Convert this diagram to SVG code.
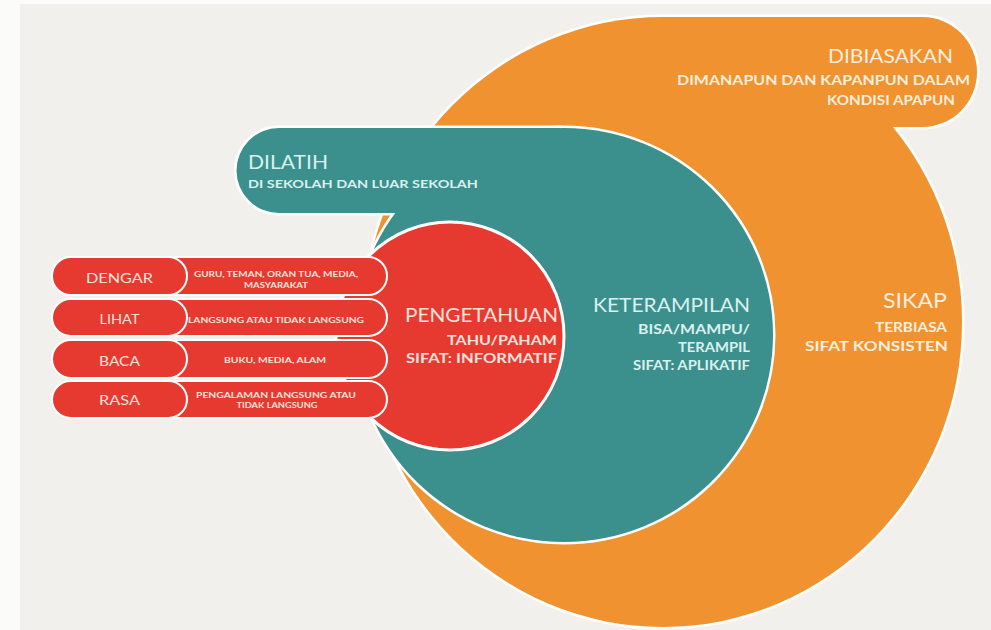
<svg xmlns="http://www.w3.org/2000/svg" width="991" height="630" viewBox="0 0 991 630">
<style>
.orange{fill:#f0922f}
.teal{fill:#3b8f8d}
.red{fill:#e63a31}
.edge{stroke:#ffffff;stroke-width:5}
.t{font-family:Lato,"Open Sans","DejaVu Sans",sans-serif}
.big{font-size:19px;font-weight:400}
.sub{font-size:12.5px;font-weight:700}
.tiny{font-size:7.5px;font-weight:700}
.ot{fill:#fdeedd}
.tt{fill:#d9f1ee}
.rt{fill:#fde2dc}
</style>
<rect x="0" y="0" width="991" height="630" fill="#fbfbfa"/>
<rect x="20" y="4" width="971" height="626" fill="#f2f0ec"/>

<g id="sikap">
  <ellipse class="edge" cx="663" cy="322" rx="299" ry="305" fill="none"/>
  <path class="edge" d="M660,17 H922 A55,55 0 0 1 922,127 H660 Z" fill="none"/>
  <ellipse class="orange" cx="663" cy="322" rx="299" ry="305"/>
  <path class="orange" d="M660,17 H922 A55,55 0 0 1 922,127 H660 Z"/>
  <text class="t big ot" x="953" y="63" text-anchor="end" textLength="125" lengthAdjust="spacingAndGlyphs">DIBIASAKAN</text>
  <text class="t sub ot" x="970" y="85" text-anchor="end" textLength="293" lengthAdjust="spacingAndGlyphs">DIMANAPUN DAN KAPANPUN DALAM</text>
  <text class="t sub ot" x="955" y="105" text-anchor="end" textLength="128" lengthAdjust="spacingAndGlyphs">KONDISI APAPUN</text>
  <text class="t ot" font-size="21" x="947" y="308" text-anchor="end" textLength="64" lengthAdjust="spacingAndGlyphs">SIKAP</text>
  <text class="t sub ot" x="947" y="332" text-anchor="end" textLength="72" lengthAdjust="spacingAndGlyphs">TERBIASA</text>
  <text class="t sub ot" x="948" y="351" text-anchor="end" textLength="143" lengthAdjust="spacingAndGlyphs">SIFAT KONSISTEN</text>
</g>

<g id="keterampilan">
  <ellipse class="edge" cx="564" cy="335" rx="209" ry="207" fill="none"/>
  <path class="edge" d="M279,128 H560 V213 H279 A42.5,42.5 0 0 1 279,128 Z" fill="none"/>
  <ellipse class="teal" cx="564" cy="335" rx="209" ry="207"/>
  <path class="teal" d="M279,128 H560 V213 H279 A42.5,42.5 0 0 1 279,128 Z"/>
  <text class="t big tt" x="248" y="169" textLength="80" lengthAdjust="spacingAndGlyphs">DILATIH</text>
  <text class="t tt" font-size="11" font-weight="700" x="248" y="188" textLength="230" lengthAdjust="spacingAndGlyphs">DI SEKOLAH DAN LUAR SEKOLAH</text>
  <text class="t big tt" x="750" y="312" text-anchor="end" textLength="157" lengthAdjust="spacingAndGlyphs">KETERAMPILAN</text>
  <text class="t sub tt" x="750" y="334" text-anchor="end" textLength="112" lengthAdjust="spacingAndGlyphs">BISA/MAMPU/</text>
  <text class="t sub tt" x="750" y="352" text-anchor="end" textLength="72" lengthAdjust="spacingAndGlyphs">TERAMPIL</text>
  <text class="t sub tt" x="750" y="370" text-anchor="end" textLength="117" lengthAdjust="spacingAndGlyphs">SIFAT: APLIKATIF</text>
</g>

<g id="pengetahuan">
  <circle class="red" cx="450" cy="336" r="114" stroke="#ffffff" stroke-width="3"/>
  <text class="t big rt" x="558" y="322" text-anchor="end" textLength="153" lengthAdjust="spacingAndGlyphs">PENGETAHUAN</text>
  <text class="t sub rt" x="557" y="345" text-anchor="end" textLength="110" lengthAdjust="spacingAndGlyphs">TAHU/PAHAM</text>
  <text class="t sub rt" x="557" y="363" text-anchor="end" textLength="151" lengthAdjust="spacingAndGlyphs">SIFAT: INFORMATIF</text>
</g>

<g id="connectors"></g>

<g id="dengar">
  <rect class="red" x="160" y="257" width="227" height="38" rx="19" stroke="#ffffff" stroke-width="2"/>
  <rect class="red" x="52" y="257" width="135" height="38" rx="19" stroke="#ffffff" stroke-width="2"/>
  <text class="t rt" font-size="14" x="119.5" y="283" text-anchor="middle" textLength="67" lengthAdjust="spacingAndGlyphs">DENGAR</text>
  <text class="t tiny rt" x="276" y="277" text-anchor="middle" textLength="164" lengthAdjust="spacingAndGlyphs">GURU, TEMAN, ORAN TUA, MEDIA,</text>
  <text class="t tiny rt" x="276" y="288" text-anchor="middle" textLength="64" lengthAdjust="spacingAndGlyphs">MASYARAKAT</text>
</g>
<g id="lihat">
  <rect class="red" x="160" y="299" width="227" height="37" rx="18.5" stroke="#ffffff" stroke-width="2"/>
  <rect class="red" x="52" y="299" width="135" height="37" rx="18.5" stroke="#ffffff" stroke-width="2"/>
  <text class="t rt" font-size="14" x="119.5" y="324" text-anchor="middle" textLength="40" lengthAdjust="spacingAndGlyphs">LIHAT</text>
  <text class="t tiny rt" x="276" y="323" text-anchor="middle" textLength="176" lengthAdjust="spacingAndGlyphs">LANGSUNG ATAU TIDAK LANGSUNG</text>
</g>
<g id="baca">
  <rect class="red" x="160" y="340" width="227" height="38" rx="19" stroke="#ffffff" stroke-width="2"/>
  <rect class="red" x="52" y="340" width="135" height="38" rx="19" stroke="#ffffff" stroke-width="2"/>
  <text class="t rt" font-size="14" x="119.5" y="366" text-anchor="middle" textLength="41" lengthAdjust="spacingAndGlyphs">BACA</text>
  <text class="t tiny rt" x="275" y="363" text-anchor="middle" textLength="102" lengthAdjust="spacingAndGlyphs">BUKU, MEDIA, ALAM</text>
</g>
<g id="rasa">
  <rect class="red" x="160" y="381" width="227" height="37" rx="18.5" stroke="#ffffff" stroke-width="2"/>
  <rect class="red" x="52" y="381" width="135" height="37" rx="18.5" stroke="#ffffff" stroke-width="2"/>
  <text class="t rt" font-size="14" x="119.5" y="405" text-anchor="middle" textLength="41" lengthAdjust="spacingAndGlyphs">RASA</text>
  <text class="t tiny rt" x="276" y="398" text-anchor="middle" textLength="160" lengthAdjust="spacingAndGlyphs">PENGALAMAN LANGSUNG ATAU</text>
  <text class="t tiny rt" x="277" y="408" text-anchor="middle" textLength="81" lengthAdjust="spacingAndGlyphs">TIDAK LANGSUNG</text>
</g>
</svg>
